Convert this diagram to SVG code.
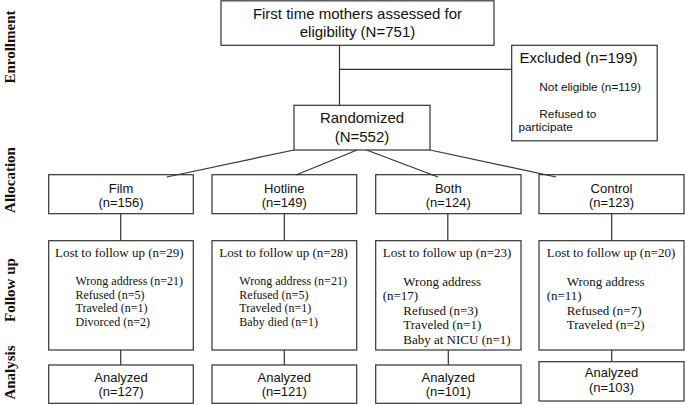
<svg xmlns="http://www.w3.org/2000/svg" width="685" height="405" viewBox="0 0 685 405">
<style>
.box{fill:#fff;stroke:#333;stroke-width:1.2}
.ln{fill:none;stroke:#333;stroke-width:1.2}
.s{font-family:"Liberation Sans",Arial,sans-serif;fill:#111}
.t{font-family:"Liberation Serif","Times New Roman",serif;fill:#111}
.side{font-family:"Liberation Serif","Times New Roman",serif;font-weight:bold;font-size:15px;fill:#111;text-anchor:middle}
.c{text-anchor:middle}
</style>
<rect width="685" height="405" fill="#fff"/>
<g id="stage-labels">
<text class="side" transform="translate(15,47) rotate(-90)">Enrollment</text>
<text class="side" transform="translate(15,180) rotate(-90)">Allocation</text>
<text class="side" transform="translate(15,290) rotate(-90)">Follow up</text>
<text class="side" transform="translate(15,372.5) rotate(-90)">Analysis</text>
</g>
<g id="assessed">
<rect class="box" x="221" y="0.8" width="273" height="44.5"/>
<text class="s c" x="357.5" y="19" font-size="15">First time mothers assessed for</text>
<text class="s c" x="357.5" y="37" font-size="15">eligibility (N=751)</text>
</g>
<g id="excluded">
<rect class="box" x="511.7" y="45.3" width="145.5" height="95.5"/>
<text class="s" x="519.5" y="63.3" font-size="15">Excluded (n=199)</text>
<text class="s" x="539.3" y="90.7" font-size="11.8">Not eligible (n=119)</text>
<text class="s" x="539.3" y="118.3" font-size="11.8">Refused to</text>
<text class="s" x="518.5" y="130.5" font-size="11.8">participate</text>
</g>
<g id="randomized">
<rect class="box" x="294" y="105.3" width="136" height="44.7"/>
<text class="s c" x="362" y="123" font-size="15">Randomized</text>
<text class="s c" x="362" y="142" font-size="15">(N=552)</text>
</g>
<g id="film">
<rect class="box" x="48.7" y="174.7" width="144.6" height="39"/>
<text class="s c" x="121" y="193.3" font-size="13">Film</text>
<text class="s c" x="121" y="207.3" font-size="13">(n=156)</text>
</g>
<g id="hotline">
<rect class="box" x="212" y="174.7" width="144.7" height="39"/>
<text class="s c" x="284.3" y="193.3" font-size="13">Hotline</text>
<text class="s c" x="284.3" y="207.3" font-size="13">(n=149)</text>
</g>
<g id="both">
<rect class="box" x="375.7" y="174.7" width="145.3" height="39"/>
<text class="s c" x="448.3" y="193.3" font-size="13">Both</text>
<text class="s c" x="448.3" y="207.3" font-size="13">(n=124)</text>
</g>
<g id="control">
<rect class="box" x="539" y="174.7" width="145" height="39"/>
<text class="s c" x="611.5" y="193.3" font-size="13">Control</text>
<text class="s c" x="611.5" y="207.3" font-size="13">(n=123)</text>
</g>
<g id="film-followup">
<rect class="box" x="48.7" y="240.7" width="144.6" height="109.3"/>
<text class="t" x="55" y="257" font-size="13">Lost to follow up (n=29)</text>
<text class="t" x="75.5" y="285" font-size="12">Wrong address (n=21)</text>
<text class="t" x="75.5" y="298.5" font-size="12">Refused (n=5)</text>
<text class="t" x="75.5" y="312" font-size="12">Traveled (n=1)</text>
<text class="t" x="75.5" y="325.5" font-size="12">Divorced (n=2)</text>
</g>
<g id="hotline-followup">
<rect class="box" x="212" y="240.7" width="144.7" height="109.3"/>
<text class="t" x="219.3" y="257" font-size="13">Lost to follow up (n=28)</text>
<text class="t" x="239.3" y="285" font-size="12">Wrong address (n=21)</text>
<text class="t" x="239.3" y="298.5" font-size="12">Refused (n=5)</text>
<text class="t" x="239.3" y="312" font-size="12">Traveled (n=1)</text>
<text class="t" x="239.3" y="325.5" font-size="12">Baby died (n=1)</text>
</g>
<g id="both-followup">
<rect class="box" x="375.7" y="240.7" width="145.3" height="109.3"/>
<text class="t" x="382.7" y="257" font-size="13">Lost to follow up (n=23)</text>
<text class="t" x="403.3" y="285.5" font-size="13">Wrong address</text>
<text class="t" x="382.7" y="300" font-size="13">(n=17)</text>
<text class="t" x="403.3" y="314.5" font-size="13">Refused (n=3)</text>
<text class="t" x="403.3" y="329" font-size="13">Traveled (n=1)</text>
<text class="t" x="403.3" y="343.5" font-size="13">Baby at NICU (n=1)</text>
</g>
<g id="control-followup">
<rect class="box" x="539" y="240.7" width="145" height="109.3"/>
<text class="t" x="546.7" y="257" font-size="13">Lost to follow up (n=20)</text>
<text class="t" x="566.7" y="285.5" font-size="13">Wrong address</text>
<text class="t" x="546.7" y="300" font-size="13">(n=11)</text>
<text class="t" x="566.7" y="314.5" font-size="13">Refused (n=7)</text>
<text class="t" x="566.7" y="329" font-size="13">Traveled (n=2)</text>
</g>
<g id="film-analyzed">
<rect class="box" x="48.7" y="365" width="144.6" height="38.3"/>
<text class="s c" x="121" y="381.7" font-size="13">Analyzed</text>
<text class="s c" x="121" y="396" font-size="13">(n=127)</text>
</g>
<g id="hotline-analyzed">
<rect class="box" x="212" y="365" width="144.7" height="38.3"/>
<text class="s c" x="284.3" y="381.7" font-size="13">Analyzed</text>
<text class="s c" x="284.3" y="396" font-size="13">(n=121)</text>
</g>
<g id="both-analyzed">
<rect class="box" x="375.7" y="365" width="145.3" height="38.3"/>
<text class="s c" x="448.3" y="381.7" font-size="13">Analyzed</text>
<text class="s c" x="448.3" y="396" font-size="13">(n=101)</text>
</g>
<g id="control-analyzed">
<rect class="box" x="539" y="361.7" width="145" height="39.3"/>
<text class="s c" x="611.5" y="377.3" font-size="13">Analyzed</text>
<text class="s c" x="611.5" y="391.7" font-size="13">(n=103)</text>
</g>
<g id="connectors">
<line class="ln" x1="339.5" y1="45.3" x2="339.5" y2="105.3"/>
<line class="ln" x1="339.5" y1="69.3" x2="511.7" y2="69.3"/>
<line class="ln" x1="294" y1="150" x2="166.7" y2="177"/>
<line class="ln" x1="357" y1="150" x2="296" y2="175"/>
<line class="ln" x1="366.5" y1="150" x2="438" y2="177"/>
<line class="ln" x1="430" y1="150" x2="556" y2="177"/>
<line class="ln" x1="120.7" y1="213.7" x2="120.7" y2="240.7"/>
<line class="ln" x1="284.3" y1="213.7" x2="284.3" y2="240.7"/>
<line class="ln" x1="447.8" y1="213.7" x2="447.8" y2="240.7"/>
<line class="ln" x1="611.7" y1="213.7" x2="611.7" y2="240.7"/>
<line class="ln" x1="120.7" y1="350" x2="120.7" y2="365"/>
<line class="ln" x1="284.3" y1="350" x2="284.3" y2="365"/>
<line class="ln" x1="448.3" y1="350" x2="448.3" y2="365"/>
<line class="ln" x1="611.7" y1="350" x2="611.7" y2="361.7"/>
</g>
</svg>
